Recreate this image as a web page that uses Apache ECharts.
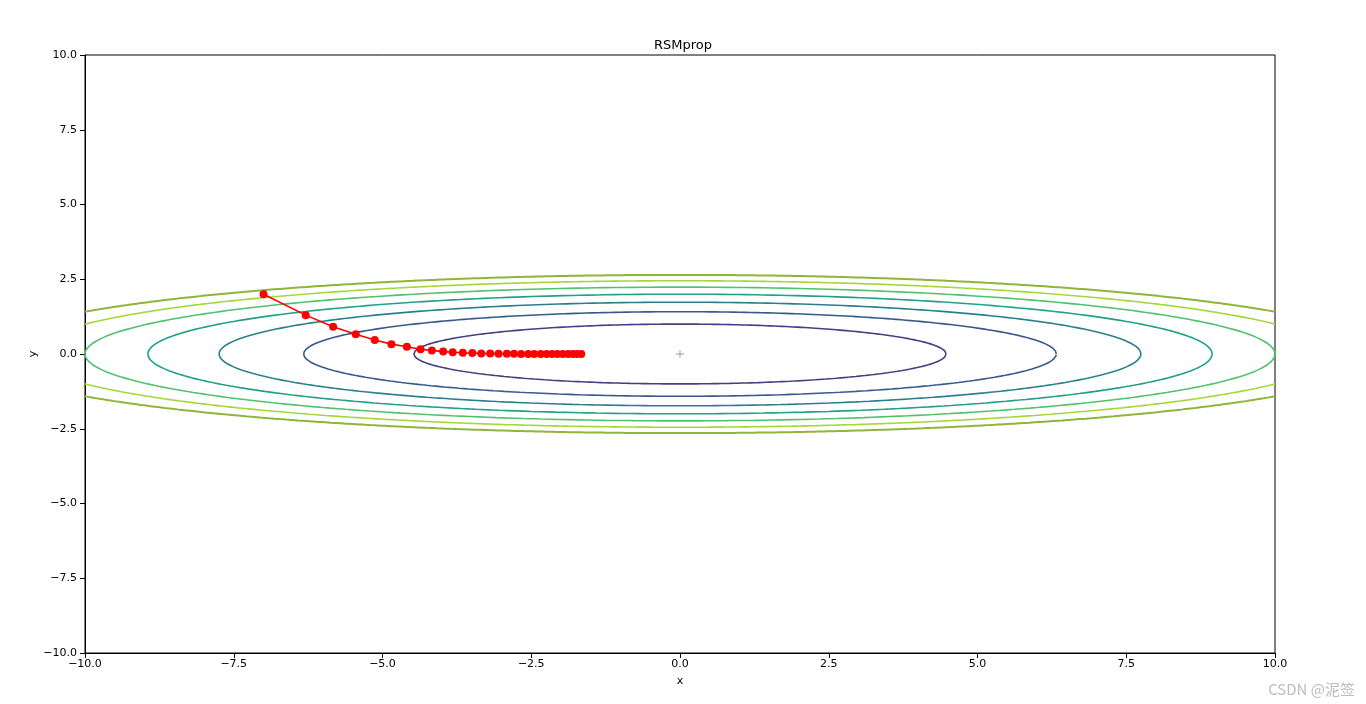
<!DOCTYPE html>
<html>
<head>
<meta charset="utf-8">
<script src="https://cdn.jsdelivr.net/npm/echarts@6/dist/echarts.min.js"></script>
<style>
html,body{margin:0;padding:0;background:#fff;}
#chart{width:1366px;height:704px;}
</style>
</head>
<body>
<div id="chart"></div>
<script>
// ---- data ----
const titleText = 'RSMprop';
const xName = 'x';
const yName = 'y';
const xTicks = [-10, -7.5, -5, -2.5, 0, 2.5, 5, 7.5, 10];
const yTicks = [-10, -7.5, -5, -2.5, 0, 2.5, 5, 7.5, 10];
// optimizer path
const pathX = [-7.00,-6.29,-5.83,-5.45,-5.13,-4.85,-4.59,-4.36,-4.17,-3.98,-3.82,-3.65,-3.49,-3.34,-3.19,-3.05,-2.91,-2.79,-2.67,-2.55,-2.45,-2.34,-2.24,-2.15,-2.06,-1.97,-1.88,-1.80,-1.73,-1.66];
const pathY = [2.00,1.30,0.91,0.66,0.47,0.33,0.24,0.16,0.12,0.08,0.06,0.04,0.03,0.02,0.015,0.01,0.007,0.005,0.003,0.002,0.001,0.001,0,0,0,0,0,0,0,0];
// contour levels of f(x,y) = x^2/20 + y^2
const levels = [1, 2, 3, 4, 5, 6];
const levelColors = ['#443f82', '#37598c', '#2a7f8e', '#22a187', '#4fc26b', '#a2d83a'];
const maskLevel = 7;
const maskColor = '#8fb53a';
const minimum = [[0, 0]];

// ---- contour geometry ----
function ellipseArcs(L) {
  const a = Math.sqrt(20 * L), b = Math.sqrt(L);
  const N = 400;
  const arcs = [];
  if (a <= 10) {
    const pts = [];
    for (let i = 0; i <= N; i++) {
      const t = 2 * Math.PI * i / N;
      pts.push([a * Math.cos(t), b * Math.sin(t)]);
    }
    arcs.push(pts);
  } else {
    const t0 = Math.acos(10 / a);
    const top = [], bot = [];
    for (let i = 0; i <= N; i++) {
      const t = t0 + (Math.PI - 2 * t0) * i / N;
      top.push([a * Math.cos(t), b * Math.sin(t)]);
      bot.push([a * Math.cos(t), -b * Math.sin(t)]);
    }
    arcs.push(top, bot);
  }
  return arcs;
}

const series = [];
levels.forEach((L, k) => {
  ellipseArcs(L).forEach(arc => {
    series.push({
      type: 'line', data: arc, showSymbol: false, symbol: 'none',
      lineStyle: { color: levelColors[k], width: 1.6 }, silent: true, z: 2
    });
  });
});
ellipseArcs(maskLevel).forEach(arc => {
  series.push({
    type: 'line', data: arc, showSymbol: false, symbol: 'none',
    lineStyle: { color: maskColor, width: 2 }, silent: true, z: 2
  });
});
series.push({
  type: 'scatter', data: minimum,
  symbol: 'path://M4,0h1v9h-1z M0,4h9v1h-9z', symbolSize: 8,
  itemStyle: { color: '#808080' }, z: 3
});
series.push({
  type: 'line', data: pathX.map((x, i) => [x, pathY[i]]),
  symbol: 'circle', symbolSize: 8, showSymbol: true,
  lineStyle: { color: '#ff0000', width: 1.6 },
  itemStyle: { color: '#ff0000', borderWidth: 0 }, z: 5
});

const fmt = v => (v < 0 ? '\u2212' : '') + Math.abs(v).toFixed(1);
const font = 'DejaVu Sans';

const chart = echarts.init(document.getElementById('chart'));
chart.setOption({
  animation: false,
  backgroundColor: '#fff',
  title: {
    text: titleText, left: 'center', top: 34,
    textStyle: { fontFamily: font, fontSize: 13, fontWeight: 'normal', color: '#000' }
  },
  grid: {
    left: 85, right: 91, top: 55, bottom: 51,
    show: true, borderColor: '#000', borderWidth: 1, backgroundColor: 'transparent'
  },
  xAxis: {
    type: 'value', min: -10, max: 10, interval: 2.5,
    axisLine: { show: true, onZero: false, lineStyle: { color: '#000', width: 1 } },
    axisTick: { show: true, inside: false, length: 5, lineStyle: { color: '#000' } },
    axisLabel: { formatter: fmt, margin: 6, fontFamily: font, fontSize: 11, color: '#000' },
    splitLine: { show: false }
  },
  yAxis: {
    type: 'value', min: -10, max: 10, interval: 2.5,
    axisLine: { show: true, onZero: false, lineStyle: { color: '#000', width: 1 } },
    axisTick: { show: true, inside: false, length: 5, lineStyle: { color: '#000' } },
    axisLabel: { formatter: fmt, margin: 8, fontFamily: font, fontSize: 11, color: '#000' },
    splitLine: { show: false }
  },
  graphic: [
    {
      type: 'text', x: 680, y: 681,
      style: { text: xName, fontFamily: font, fontSize: 11, fill: '#000', align: 'center', verticalAlign: 'middle' }
    },
    {
      type: 'text', x: 33, y: 354, rotation: Math.PI / 2,
      style: { text: yName, fontFamily: font, fontSize: 11, fill: '#000', align: 'center', verticalAlign: 'middle' }
    },
    {
      type: 'text', right: 11, bottom: 7,
      style: { text: 'CSDN @泥签', fontFamily: 'Noto Sans CJK SC', fontSize: 15, fill: '#bdbdbd' }
    }
  ],
  series: series
});
</script>
</body>
</html>
